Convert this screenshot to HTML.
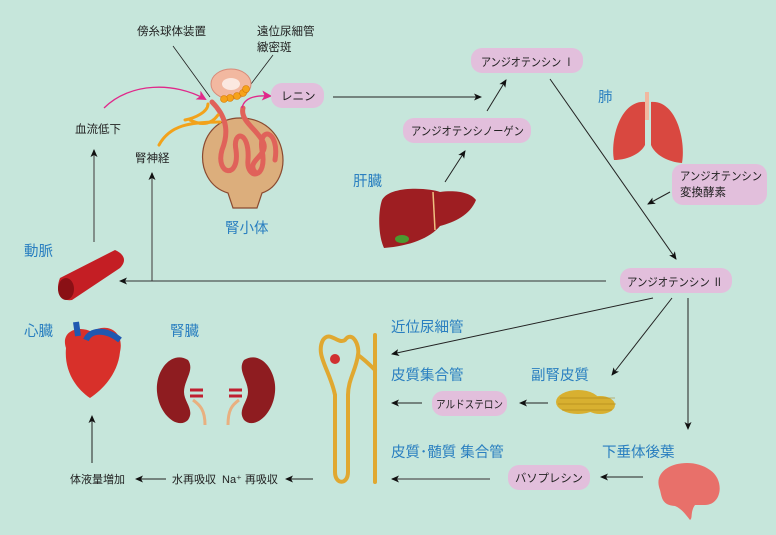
<!DOCTYPE html>
<html><head><meta charset="utf-8"><style>
body{margin:0;background:#c6e6db}
svg{display:block}
text{font-family:"Liberation Sans","Noto Sans CJK JP",sans-serif}
.k{font-size:11.5px;fill:#222}
.b{font-size:14.5px;fill:#2a7fc0}
.bx{fill:#e2bfdc}
</style></head><body>
<svg width="776" height="535" viewBox="0 0 776 535" xmlns="http://www.w3.org/2000/svg">
<defs>
<marker id="a" markerWidth="8" markerHeight="8" refX="7" refY="4" orient="auto" markerUnits="userSpaceOnUse"><path d="M0,0.5 L8,4 L0,7.5 L2,4z" fill="#111"/></marker>
<marker id="p" markerWidth="10" markerHeight="10" refX="8" refY="5" orient="auto" markerUnits="userSpaceOnUse"><path d="M0,0 L10,5 L0,10 L2.5,5z" fill="#e0288a"/></marker>
</defs>
<rect width="776" height="535" fill="#c6e6db"/>

<text class="k" x="137" y="35">傍糸球体装置</text>
<text class="k" x="257" y="35">遠位尿細管</text>
<text class="k" x="257" y="51">緻密斑</text>
<line x1="173" y1="46" x2="210" y2="97" stroke="#222" stroke-width="0.8"/>
<line x1="273" y1="55" x2="248" y2="88" stroke="#222" stroke-width="0.8"/>

<path d="M228,193 C190,182 195,118 240,118 C290,118 295,182 262,193 L257,208 L233,208z" fill="#dcae7c" stroke="#8a4a30" stroke-width="1.2"/>
<g fill="none" stroke="#e0625a" stroke-width="5" stroke-linecap="round">
<path d="M212,102 C225,115 230,130 222,150 C215,175 240,180 236,150 C232,130 250,130 248,160 C246,180 268,180 262,150 C258,125 280,130 275,160"/>
<path d="M243,108 C240,120 255,128 262,140 C272,155 245,160 255,172"/>
</g>
<ellipse cx="231" cy="84" rx="20" ry="15" fill="#f2b8a0" stroke="#d88a78"/>
<ellipse cx="231" cy="84" rx="9" ry="6" fill="#fbe8e0"/>
<g fill="#f6a21a" stroke="#d67a00" stroke-width="0.6">
<circle cx="230" cy="98" r="3.5"/><circle cx="237" cy="96" r="3.5"/><circle cx="243" cy="93" r="3.5"/><circle cx="246" cy="89" r="3.5"/><circle cx="224" cy="99" r="3.5"/>
</g>
<g fill="none" stroke="#f2a21a" stroke-width="3" stroke-linecap="round">
<path d="M159,145 C170,125 190,122 220,122"/>
<path d="M185,120 C195,118 208,112 208,104"/>
<path d="M190,120 C200,125 210,126 218,115"/>
</g>
<text class="b" x="225" y="233">腎小体</text>

<path d="M104,108 C130,82 175,82 205,99" fill="none" stroke="#e0288a" stroke-width="1.3" marker-end="url(#p)"/>
<path d="M242,108 C244,98 255,95 270,96" fill="none" stroke="#e0288a" stroke-width="1.3" marker-end="url(#p)"/>

<rect class="bx" x="271" y="83" width="53" height="25" rx="11"/>
<text class="k" x="281" y="100">レニン</text>
<line x1="333" y1="97" x2="481" y2="97" stroke="#222" stroke-width="1" marker-end="url(#a)"/>

<rect class="bx" x="471" y="48" width="112" height="25" rx="11"/>
<text class="k" x="481" y="66" textLength="93" lengthAdjust="spacingAndGlyphs">アンジオテンシン Ⅰ</text>
<rect class="bx" x="403" y="118" width="128" height="25" rx="11"/>
<text class="k" x="411" y="135" textLength="113" lengthAdjust="spacingAndGlyphs">アンジオテンシノーゲン</text>
<line x1="487" y1="111" x2="506" y2="80" stroke="#222" marker-end="url(#a)"/>
<line x1="445" y1="182" x2="465" y2="151" stroke="#222" marker-end="url(#a)"/>

<text class="k" x="75" y="133">血流低下</text>
<text class="k" x="135" y="162">腎神経</text>
<line x1="94" y1="242" x2="94" y2="150" stroke="#555" stroke-width="1.2" marker-end="url(#a)"/>
<line x1="152" y1="281" x2="152" y2="173" stroke="#555" stroke-width="1.2" marker-end="url(#a)"/>

<text class="b" x="353" y="186">肝臓</text>
<path d="M382,200 C390,185 430,188 440,192 C455,190 470,192 476,200 C470,215 455,222 440,226 C430,238 410,246 384,248 C378,235 378,212 382,200z" fill="#9e1e22"/>
<path d="M433,192 L435,230" stroke="#f0c080" stroke-width="1.5"/>
<ellipse cx="402" cy="239" rx="7" ry="4" fill="#4a9a30"/>

<text class="b" x="598" y="102">肺</text>
<rect x="645" y="92" width="4" height="28" fill="#f0b8a0"/>
<path d="M645,102 C620,100 610,140 614,160 C625,160 640,155 645,145z" fill="#d94840"/>
<path d="M651,102 C676,100 686,140 682,163 C668,162 655,155 651,145z" fill="#d94840"/>

<rect class="bx" x="672" y="164" width="95" height="41" rx="11"/>
<text class="k" x="680" y="180" textLength="82" lengthAdjust="spacingAndGlyphs">アンジオテンシン</text>
<text class="k" x="680" y="196">変換酵素</text>
<line x1="670" y1="192" x2="648" y2="204" stroke="#222" marker-end="url(#a)"/>
<line x1="550" y1="79" x2="676" y2="259" stroke="#222" marker-end="url(#a)"/>

<rect class="bx" x="620" y="268" width="112" height="25" rx="11"/>
<text class="k" x="627" y="286" textLength="96" lengthAdjust="spacingAndGlyphs">アンジオテンシン Ⅱ</text>
<line x1="606" y1="281" x2="120" y2="281" stroke="#333" stroke-width="1" marker-end="url(#a)"/>

<text class="b" x="24" y="256">動脈</text>
<path d="M60,278 L115,250 C126,255 126,262 120,268 L72,300 C60,302 55,290 60,278z" fill="#c41e24"/>
<ellipse cx="66" cy="289" rx="8" ry="11" fill="#8a1015"/>

<line x1="653" y1="298" x2="392" y2="354" stroke="#222" marker-end="url(#a)"/>
<line x1="672" y1="298" x2="612" y2="375" stroke="#222" marker-end="url(#a)"/>
<line x1="688" y1="298" x2="688" y2="429" stroke="#222" marker-end="url(#a)"/>

<text class="b" x="391" y="332">近位尿細管</text>
<text class="b" x="391" y="380">皮質集合管</text>
<text class="b" x="531" y="380">副腎皮質</text>
<text class="b" x="391" y="457">皮質･髄質 集合管</text>
<text class="b" x="602" y="457">下垂体後葉</text>

<ellipse cx="578" cy="402" rx="22" ry="12" fill="#d8b030"/>
<ellipse cx="600" cy="405" rx="15" ry="9" fill="#d8b030"/>
<g stroke="#a07a10" stroke-width="0.6" fill="none"><path d="M560,398 H615 M558,404 H616 M562,410 H612"/></g>

<line x1="548" y1="403" x2="520" y2="403" stroke="#222" marker-end="url(#a)"/>
<rect class="bx" x="432" y="391" width="75" height="25" rx="11"/>
<text class="k" x="436" y="408" style="font-size:11px" textLength="67" lengthAdjust="spacingAndGlyphs">アルドステロン</text>
<line x1="422" y1="403" x2="392" y2="403" stroke="#222" marker-end="url(#a)"/>

<line x1="643" y1="477" x2="601" y2="477" stroke="#222" marker-end="url(#a)"/>
<rect class="bx" x="508" y="465" width="82" height="25" rx="11"/>
<text class="k" x="515" y="482" textLength="68" lengthAdjust="spacingAndGlyphs">バソプレシン</text>
<line x1="490" y1="479" x2="392" y2="479" stroke="#555" stroke-width="1.2" marker-end="url(#a)"/>

<path d="M660,490 C650,465 690,455 710,470 C725,480 722,505 705,505 L695,505 C690,512 693,518 690,520 C684,512 680,508 675,506 C662,505 662,498 660,490z" fill="#e8706a"/>

<g fill="none" stroke="#e0a830" stroke-width="4" stroke-linecap="round">
<path d="M375,335 L375,482"/>
<path d="M335,395 L335,472 C335,485 348,485 348,472 L348,395"/>
<path d="M335,395 C330,370 315,355 323,340 C330,330 338,345 345,340 C352,330 360,345 358,355 C356,370 348,380 348,395"/>
<path d="M358,355 C365,360 370,365 375,370"/>
</g>
<circle cx="335" cy="359" r="5" fill="#d03030"/>

<line x1="313" y1="479" x2="286" y2="479" stroke="#222" marker-end="url(#a)"/>
<text class="k" x="172" y="483" style="font-size:11px">水再吸収</text>
<text class="k" x="222" y="483" style="font-size:11px">Na⁺ 再吸収</text>
<line x1="166" y1="479" x2="136" y2="479" stroke="#222" marker-end="url(#a)"/>
<text class="k" x="70" y="483" style="font-size:11px">体液量増加</text>
<line x1="92" y1="463" x2="92" y2="416" stroke="#222" marker-end="url(#a)"/>

<text class="b" x="24" y="336">心臓</text>
<path d="M66,348 C60,330 80,325 92,332 C105,322 125,330 120,352 C118,372 105,388 90,398 C75,388 64,370 66,348z" fill="#d8302a"/>
<path d="M78,336 L76,322 M86,340 C90,330 105,328 120,340" stroke="#2058b0" stroke-width="6" fill="none"/>

<text class="b" x="170" y="336">腎臓</text>
<path d="M184,392 C184,380 195,370 188,360 C172,350 155,370 157,392 C159,415 178,430 188,420 C195,410 184,402 184,392z" fill="#8e1c20"/>
<path d="M248,392 C248,380 237,370 244,360 C260,350 277,370 275,392 C273,415 254,430 244,420 C237,410 248,402 248,392z" fill="#8e1c20"/>
<path d="M190,390 L203,390 M190,396 L203,396 M229,390 L242,390 M229,396 L242,396" stroke="#c02030" stroke-width="3"/>
<path d="M193,400 C200,405 205,410 205,425 M239,400 C232,405 228,410 228,425" stroke="#e8b080" stroke-width="3" fill="none"/>
</svg>
</body></html>
